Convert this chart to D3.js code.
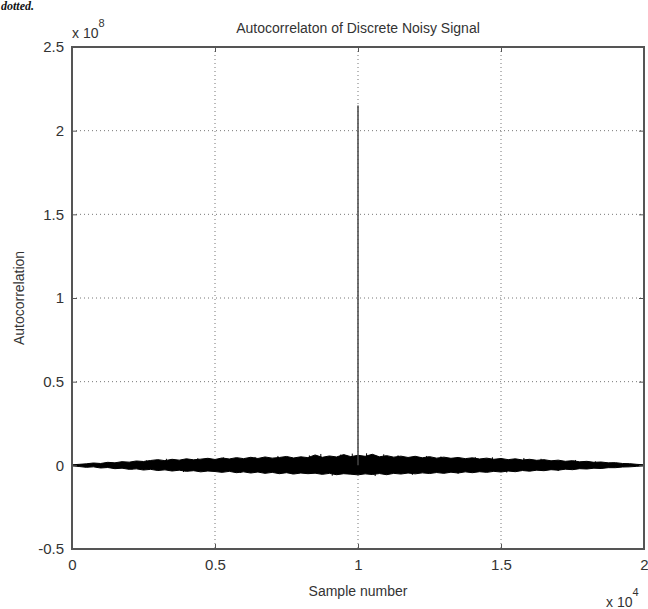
<!DOCTYPE html>
<html>
<head>
<meta charset="utf-8">
<title>Autocorrelaton of Discrete Noisy Signal</title>
<script src="https://cdn.jsdelivr.net/npm/d3@7/dist/d3.min.js"></script>
<style>
  body { margin: 0; background: #fff; }
  svg text { font-family: "Liberation Sans", Arial, sans-serif; fill: #333; }
</style>
</head>
<body>
<script>
// ticks (in the units shown on the axes)
var xTicks = [0, 0.5, 1, 1.5, 2];          // x 10^4
var yTicks = [-0.5, 0, 0.5, 1, 1.5, 2, 2.5]; // x 10^8

var noiseStep = 250;
var noiseUpper = [0.3, 0.6, 0.9, 1.4, 1.1, 1.8, 1.5, 2.2, 1.9, 2.6,
  2.3, 2.9, 3.4, 2.8, 3.6, 3.1, 3.9, 3.3, 3.7, 4.2,
  3.5, 4.4, 3.8, 4.6, 4.0, 4.8, 4.1, 5.0, 4.3, 4.7,
  5.3, 4.4, 5.1, 4.6, 6.2, 4.8, 5.6, 5.0, 6.4, 5.2,
  6.0, 5.4, 6.6, 5.1, 5.8, 4.9, 5.5, 4.7, 5.4, 4.5,
  5.2, 4.3, 4.9, 4.2, 4.7, 4.0, 4.5, 3.8, 4.3, 3.6,
  4.1, 3.4, 3.9, 3.2, 3.6, 3.0, 3.4, 2.7, 3.1, 2.4,
  2.8, 2.1, 2.4, 1.8, 2.0, 1.5, 1.6, 1.1, 1.0, 0.6, 0.3];
var noiseLower = [-0.3, -0.7, -1.2, -0.9, -1.6, -1.3, -2.0, -1.7, -2.4, -2.1,
  -2.8, -2.4, -3.1, -2.7, -3.4, -2.9, -3.6, -3.2, -3.9, -3.4,
  -3.7, -4.2, -3.6, -4.4, -3.9, -4.6, -4.0, -4.8, -4.2, -5.0,
  -4.4, -5.2, -4.6, -5.0, -4.7, -5.4, -4.8, -5.6, -5.0, -5.3,
  -5.7, -5.1, -5.5, -4.9, -5.6, -4.8, -5.2, -4.6, -5.1, -4.5,
  -4.9, -4.3, -4.8, -4.1, -4.6, -3.9, -4.4, -3.8, -4.2, -3.6,
  -4.0, -3.4, -3.8, -3.1, -3.5, -2.9, -3.2, -2.6, -2.9, -2.3,
  -2.6, -2.0, -2.2, -1.7, -1.9, -1.4, -1.4, -1.0, -0.9, -0.6, -0.3];

// isolated outlying spikes poking out of the band (sample, value in 1e6)
var spikeX = [1400, 2100, 2600, 3300, 3900, 4400, 5300, 5900, 6400, 7200,
  7700, 8300, 8700, 9100, 9400, 9800, 10300, 10600, 10900, 11400,
  11900, 12400, 12900, 13500, 14100, 14700, 15200, 15800, 16400, 17000,
  17600, 18300, 18900];
var spikeY = [1.6, -2.6, 3.0, 3.9, -4.0, 4.3, 4.7, -4.6, 5.0, 5.6,
  -5.3, 5.9, 6.8, -6.2, 6.5, 7.0, 7.2, -6.4, 6.6, 6.0,
  -5.7, 5.6, 5.3, -5.0, 4.9, 4.8, -4.3, 4.4, 3.9, -3.4,
  3.2, 2.4, 1.5];

// the zero-lag peak
var peakX = [10000];
var peakY = [2.15e8];

var W = 648, H = 609;
var margin = {top: 47, right: 4, bottom: 60, left: 72};
var w = W - margin.left - margin.right;
var h = H - margin.top - margin.bottom;

var svg = d3.select("body").append("svg")
  .attr("width", W).attr("height", H);

// caption line above the figure
svg.append("text").attr("x", 1).attr("y", 10)
  .style("font-family", "'Liberation Serif', serif")
  .style("font-style", "italic").style("font-weight", "bold")
  .style("font-size", "12px").style("fill", "#111")
  .text("dotted.");

var g = svg.append("g").attr("transform", "translate(" + margin.left + "," + margin.top + ")");

var xScale = d3.scaleLinear().domain([0, 2e4]).range([0, w]);
var yScale = d3.scaleLinear().domain([-0.5e8, 2.5e8]).range([h, 0]);

// dotted grid
g.append("g").selectAll("line").data(xTicks.slice(1, -1)).enter().append("line")
  .attr("x1", d => xScale(d * 1e4)).attr("x2", d => xScale(d * 1e4))
  .attr("y1", 0).attr("y2", h)
  .attr("stroke", "#777").attr("stroke-width", 1).attr("stroke-dasharray", "1,3");
g.append("g").selectAll("line").data(yTicks.slice(1, -1)).enter().append("line")
  .attr("x1", 0).attr("x2", w)
  .attr("y1", d => yScale(d * 1e8)).attr("y2", d => yScale(d * 1e8))
  .attr("stroke", "#777").attr("stroke-width", 1).attr("stroke-dasharray", "1,3");

// noise band
var noise = noiseUpper.map(function(u, i) {
  return {x: i * noiseStep, hi: u * 1e6, lo: noiseLower[i] * 1e6};
});
var area = d3.area().x(d => xScale(d.x)).y0(d => yScale(d.lo)).y1(d => yScale(d.hi));
g.append("path").datum(noise).attr("d", area)
  .attr("fill", "#000").attr("stroke", "#000").attr("stroke-width", 1);

g.selectAll(".spike").data(spikeX).enter().append("line").attr("class", "spike")
  .attr("x1", d => xScale(d)).attr("x2", d => xScale(d))
  .attr("y1", yScale(0)).attr("y2", (d, i) => yScale(spikeY[i] * 1e6))
  .attr("stroke", "#000").attr("stroke-width", 1);

// zero-lag spike
g.selectAll(".peak").data(peakX).enter().append("line").attr("class", "peak")
  .attr("x1", d => xScale(d)).attr("x2", d => xScale(d))
  .attr("y1", yScale(0)).attr("y2", (d, i) => yScale(peakY[i]))
  .attr("stroke", "#444").attr("stroke-width", 1.5);

// axes with inward ticks
var xAxis = d3.axisBottom(xScale).tickValues(xTicks.map(d => d * 1e4))
  .tickSize(-5).tickPadding(10).tickFormat(d => String(d / 1e4));
var yAxis = d3.axisLeft(yScale).tickValues(yTicks.map(d => d * 1e8))
  .tickSize(-5).tickPadding(8).tickFormat(d => String(Math.round(d / 1e7) / 10));
var xTop = d3.axisTop(xScale).tickValues(xTicks.map(d => d * 1e4)).tickSize(-5).tickFormat("");
var yRight = d3.axisRight(yScale).tickValues(yTicks.map(d => d * 1e8)).tickSize(-5).tickFormat("");

g.append("g").attr("class", "axis").attr("transform", "translate(0," + h + ")").call(xAxis);
g.append("g").attr("class", "axis").call(yAxis);
g.append("g").attr("class", "axis").call(xTop);
g.append("g").attr("class", "axis").attr("transform", "translate(" + w + ",0)").call(yRight);

g.selectAll(".axis text").style("font-size", "15px").style("fill", "#333")
  .style("font-family", "'Liberation Sans', Arial, sans-serif");
g.selectAll(".axis .domain").remove();
g.selectAll(".axis .tick line").attr("stroke", "#555");

// box
g.append("rect").attr("x", 0).attr("y", 0).attr("width", w).attr("height", h)
  .attr("fill", "none").attr("stroke", "#555").attr("stroke-width", 2);

// title and labels
svg.append("text").attr("x", margin.left + w / 2).attr("y", 33)
  .attr("text-anchor", "middle").style("font-size", "14px").text("Autocorrelaton of Discrete Noisy Signal");
svg.append("text").attr("x", margin.left + w / 2).attr("y", 596)
  .attr("text-anchor", "middle").style("font-size", "14px").text("Sample number");
svg.append("text").attr("transform", "translate(24," + (margin.top + h / 2) + ") rotate(-90)")
  .attr("text-anchor", "middle").style("font-size", "14px").text("Autocorrelation");

// exponent labels
var e8 = svg.append("text").attr("x", 72).attr("y", 38).style("font-size", "14px");
e8.append("tspan").text("x 10");
e8.append("tspan").attr("dy", -11).style("font-size", "11px").text("8");
var e4 = svg.append("text").attr("x", 606).attr("y", 607).style("font-size", "14px");
e4.append("tspan").text("x 10");
e4.append("tspan").attr("dy", -11).style("font-size", "11px").text("4");
</script>
</body>
</html>
